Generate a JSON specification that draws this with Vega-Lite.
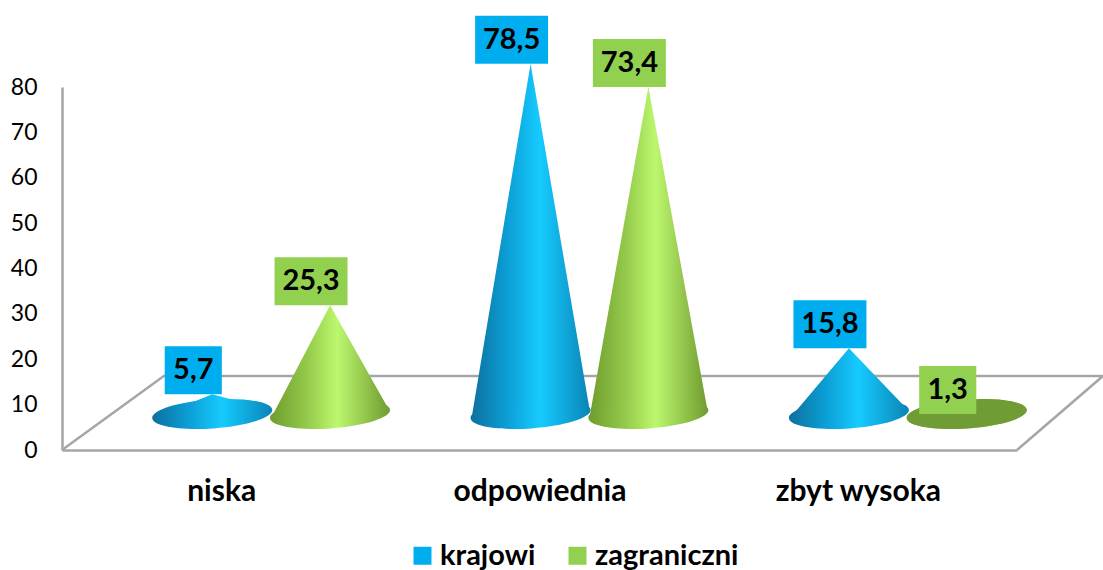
{"$schema":"https://vega.github.io/schema/vega-lite/v6.json","width":955,"height":363,"autosize":{"type":"none"},"padding":{"left":62,"top":87,"right":86,"bottom":120},"background":"white","config":{"view":{"stroke":null},"font":"Lato"},
"data":{"values":[
{"kategoria":"niska","seria":"krajowi","wartosc":5.7},
{"kategoria":"niska","seria":"zagraniczni","wartosc":25.3},
{"kategoria":"odpowiednia","seria":"krajowi","wartosc":78.5},
{"kategoria":"odpowiednia","seria":"zagraniczni","wartosc":73.4},
{"kategoria":"zbyt wysoka","seria":"krajowi","wartosc":15.8},
{"kategoria":"zbyt wysoka","seria":"zagraniczni","wartosc":1.3}]},
"transform":[
{"calculate":"indexof(['niska','odpowiednia','zbyt wysoka'],datum.kategoria)+0.5+(datum.seria=='krajowi'?-0.185:0.185)","as":"pos"},
{"calculate":"replace(format(datum.wartosc,'.1f'),'.',',')","as":"etykieta"},
{"calculate":"length(datum.etykieta)+''","as":"dl"}],
"layer":[
{"data":{"values":[{"x":0,"y":0,"o":1},{"x":0.32,"y":16.3,"o":2},{"x":3.27,"y":16.3,"o":3},{"x":3,"y":0,"o":4}]},"transform":[],
"mark":{"type":"line","stroke":"#a6a6a6","strokeWidth":2.5,"clip":false},
"encoding":{"x":{"field":"x","type":"quantitative","scale":{"domain":[0,3],"nice":false,"zero":false},
"axis":{"values":[0.5,1.5,2.5],"labelExpr":"['niska','odpowiednia','zbyt wysoka'][floor(datum.value)]","title":null,"grid":false,"ticks":false,"domainColor":"#a6a6a6","domainWidth":2.5,"labelFont":"Lato","labelFontWeight":"bold","labelFontSize":30,"labelColor":"#000000","labelPadding":26}},
"y":{"field":"y","type":"quantitative","scale":{"domain":[0,80],"nice":false},
"axis":{"values":[0,10,20,30,40,50,60,70,80],"title":null,"grid":false,"ticks":false,"domainColor":"#a6a6a6","domainWidth":2.5,"labelFont":"Lato","labelFontSize":23,"labelColor":"#000000","labelPadding":25}},
"order":{"field":"o","type":"quantitative"}}},
{"transform":[{"filter":"datum.seria=='krajowi'"},{"calculate":"[-1,0,1]","as":"v"},{"flatten":["v"]},{"calculate":"datum.pos+datum.v*0.1855","as":"vx"},{"calculate":"datum.v==0?datum.wartosc:(datum.v<0?0.4:2.2)","as":"h"},{"calculate":"datum.v==0?1.3:(datum.v<0?0.4:2.2)","as":"h0"}],
"mark":{"type":"area","xOffset":50,"yOffset":-30,"y2Offset":-30,"line":false,"clip":false,"color":{"gradient":"linear","x1":0,"x2":1,"y1":0,"y2":0,"stops":[{"offset":0,"color":"#0d709e"},{"offset":0.3,"color":"#0b9ed4"},{"offset":0.58,"color":"#16cbff"},{"offset":1,"color":"#0a84b6"}]}},
"encoding":{"x":{"field":"vx","type":"quantitative"},"y":{"field":"h","type":"quantitative","stack":false},"y2":{"field":"h0"},"detail":{"field":"kategoria"}}},
{"transform":[{"filter":"datum.seria=='krajowi'"}],
"mark":{"type":"point","filled":true,"opacity":1,"size":14400,"xOffset":50,"yOffset":-36,"shape":"M-1,0.07A1,0.24 -4 1,0 1,-0.07A1,0.24 -4 1,0 -1,0.07Z","fill":{"gradient":"linear","x1":0,"x2":1,"y1":0,"y2":0,"stops":[{"offset":0,"color":"#0d709e"},{"offset":0.3,"color":"#0b9ed4"},{"offset":0.58,"color":"#16cbff"},{"offset":1,"color":"#0a84b6"}]}},
"encoding":{"x":{"field":"pos","type":"quantitative"},"y":{"datum":0}}},
{"transform":[{"filter":"datum.seria=='zagraniczni'"},{"calculate":"[-1,0,1]","as":"v"},{"flatten":["v"]},{"calculate":"datum.pos+datum.v*0.1855","as":"vx"},{"calculate":"datum.v==0?datum.wartosc:(datum.v<0?0.4:2.2)","as":"h"},{"calculate":"datum.v==0?1.3:(datum.v<0?0.4:2.2)","as":"h0"}],
"mark":{"type":"area","xOffset":50,"yOffset":-30,"y2Offset":-30,"line":false,"clip":false,"color":{"gradient":"linear","x1":0,"x2":1,"y1":0,"y2":0,"stops":[{"offset":0,"color":"#6f9c2e"},{"offset":0.3,"color":"#93c94a"},{"offset":0.56,"color":"#bdf76e"},{"offset":1,"color":"#6f9b30"}]}},
"encoding":{"x":{"field":"vx","type":"quantitative"},"y":{"field":"h","type":"quantitative","stack":false},"y2":{"field":"h0"},"detail":{"field":"kategoria"}}},
{"transform":[{"filter":"datum.seria=='zagraniczni'"}],
"mark":{"type":"point","filled":true,"opacity":1,"size":14400,"xOffset":50,"yOffset":-36,"shape":"M-1,0.07A1,0.24 -4 1,0 1,-0.07A1,0.24 -4 1,0 -1,0.07Z","fill":{"gradient":"linear","x1":0,"x2":1,"y1":0,"y2":0,"stops":[{"offset":0,"color":"#6f9c2e"},{"offset":0.3,"color":"#93c94a"},{"offset":0.56,"color":"#bdf76e"},{"offset":1,"color":"#6f9b30"}]}},
"encoding":{"x":{"field":"pos","type":"quantitative"},"y":{"datum":0}}},
{"transform":[{"filter":"datum.wartosc<2"}],
"mark":{"type":"point","filled":true,"opacity":1,"size":14400,"xOffset":50,"yOffset":-36,"fill":"#6f9c35","shape":"M-1,0.07A1,0.24 -4 1,0 1,-0.07A1,0.24 -4 1,0 -1,0.07Z"},
"encoding":{"x":{"field":"pos","type":"quantitative"},"y":{"datum":0}}},
{"mark":{"type":"point","filled":true,"opacity":1,"size":2304,"xOffset":31,"yOffset":-54},
"encoding":{"x":{"field":"pos","type":"quantitative"},"y":{"field":"wartosc","type":"quantitative"},
"shape":{"field":"dl","type":"nominal","scale":{"domain":["3","4"],"range":["M-1.19,-1H1.19V1H-1.19Z","M-1.52,-1H1.52V1H-1.52Z"]},"legend":null},
"color":{"field":"seria","type":"nominal","scale":{"domain":["krajowi","zagraniczni"],"range":["#00aeef","#92d050"]},
"legend":{"orient":"none","legendX":346,"legendY":454,"direction":"horizontal","title":null,"symbolType":"square","symbolSize":324,"symbolStrokeWidth":0,"symbolOpacity":1,"labelFont":"Lato","labelFontWeight":"bold","labelFontSize":29,"labelColor":"#000000","columnPadding":27,"labelOffset":3,"labelLimit":300}}}},
{"mark":{"type":"text","font":"Lato","fontWeight":"bold","fontSize":29,"color":"#000000","align":"center","baseline":"middle","xOffset":31,"yOffset":-54},
"encoding":{"x":{"field":"pos","type":"quantitative"},"y":{"field":"wartosc","type":"quantitative"},"text":{"field":"etykieta","type":"nominal"}}}
]}
